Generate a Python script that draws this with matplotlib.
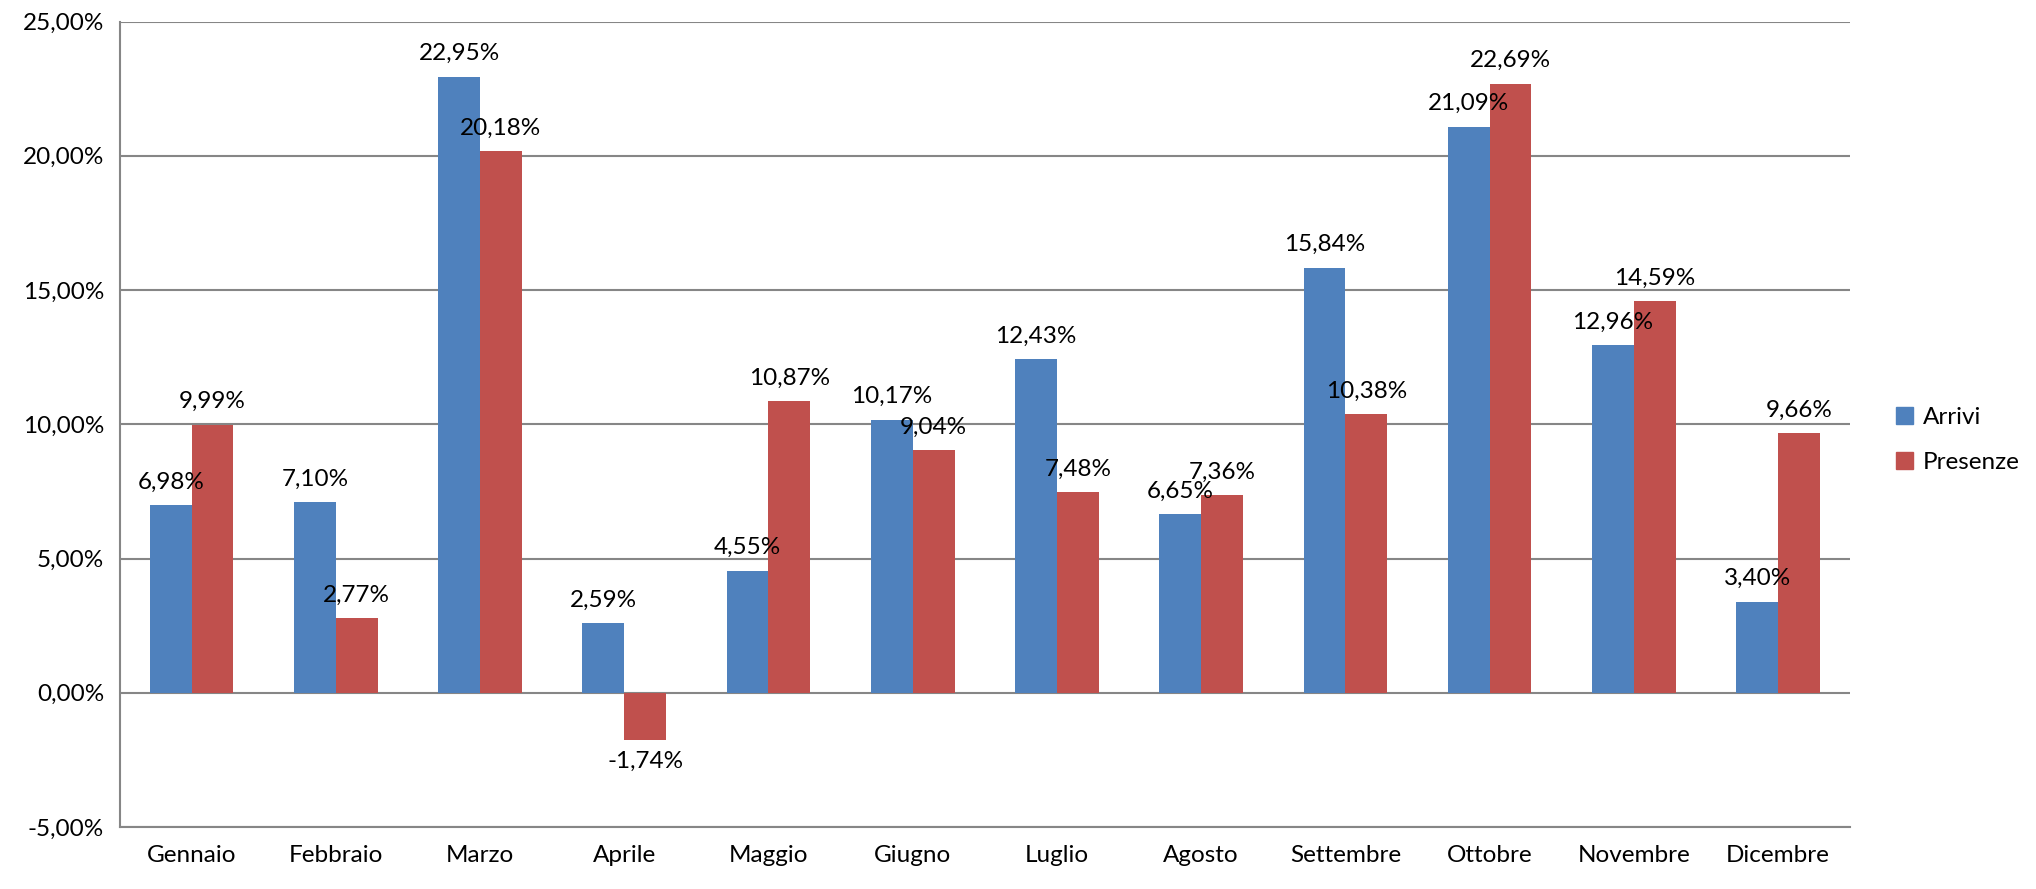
import matplotlib
import numpy as np

matplotlib.use("Agg")
import matplotlib.pyplot as plt
from matplotlib.patches import Patch

mesi = ["Gennaio", "Febbraio", "Marzo", "Aprile", "Maggio", "Giugno",
        "Luglio", "Agosto", "Settembre", "Ottobre", "Novembre", "Dicembre"]
arrivi = [6.98, 7.10, 22.95, 2.59, 4.55, 10.17, 12.43, 6.65, 15.84, 21.09, 12.96, 3.40]
presenze = [9.99, 2.77, 20.18, -1.74, 10.87, 9.04, 7.48, 7.36, 10.38, 22.69, 14.59, 9.66]
yticks = [-5, 0, 5, 10, 15, 20, 25]

blue = "#4F81BD"
red = "#C0504D"
grid_c = "#868686"

plt.rcParams["font.family"] = ["Lato", "DejaVu Sans"]
fs = 17.5


def pct(v):
    return f"{v:.2f}".replace(".", ",") + "%"


fig = plt.figure(figsize=(20.36, 8.89), dpi=100)
ax = fig.add_axes([0.0587, 0.0697, 0.85, 0.906])

x = np.arange(len(mesi))
w = 0.29
b1 = ax.bar(x - w / 2, arrivi, w, color=blue, zorder=3)
b2 = ax.bar(x + w / 2, presenze, w, color=red, zorder=3)

for bars, vals in ((b1, arrivi), (b2, presenze)):
    for rect, v in zip(bars, vals):
        cx = rect.get_x() + rect.get_width() / 2
        if v >= 0:
            ax.annotate(pct(v), (cx, v), xytext=(0, 9), textcoords="offset points",
                        ha="center", va="bottom", fontsize=fs, zorder=4)
        else:
            ax.annotate(pct(v), (cx, v), xytext=(0, -8), textcoords="offset points",
                        ha="center", va="top", fontsize=fs, zorder=4)

ax.set_xlim(-0.5, len(mesi) - 0.5)
ax.set_ylim(-5, 25)
ax.set_yticks(yticks)
ax.set_yticklabels([pct(v) for v in yticks], fontsize=fs)
ax.set_xticks(x)
ax.set_xticklabels(mesi, fontsize=fs)
ax.tick_params(axis="both", length=0, pad=13)
ax.tick_params(axis="y", pad=11)

ax.grid(axis="y", color=grid_c, linewidth=1.5, zorder=0)
for s in ("top", "right"):
    ax.spines[s].set_visible(False)
for s in ("left", "bottom"):
    ax.spines[s].set_color(grid_c)
    ax.spines[s].set_linewidth(1.5)

handles = [Patch(color=blue, label="Arrivi"), Patch(color=red, label="Presenze")]
fig.legend(handles=handles, loc="center left", bbox_to_anchor=(0.9205, 0.505),
           frameon=False, fontsize=fs, handlelength=0.7, handleheight=0.7,
           handletextpad=0.4, labelspacing=1.0)

fig.savefig("out.png", dpi=100)
